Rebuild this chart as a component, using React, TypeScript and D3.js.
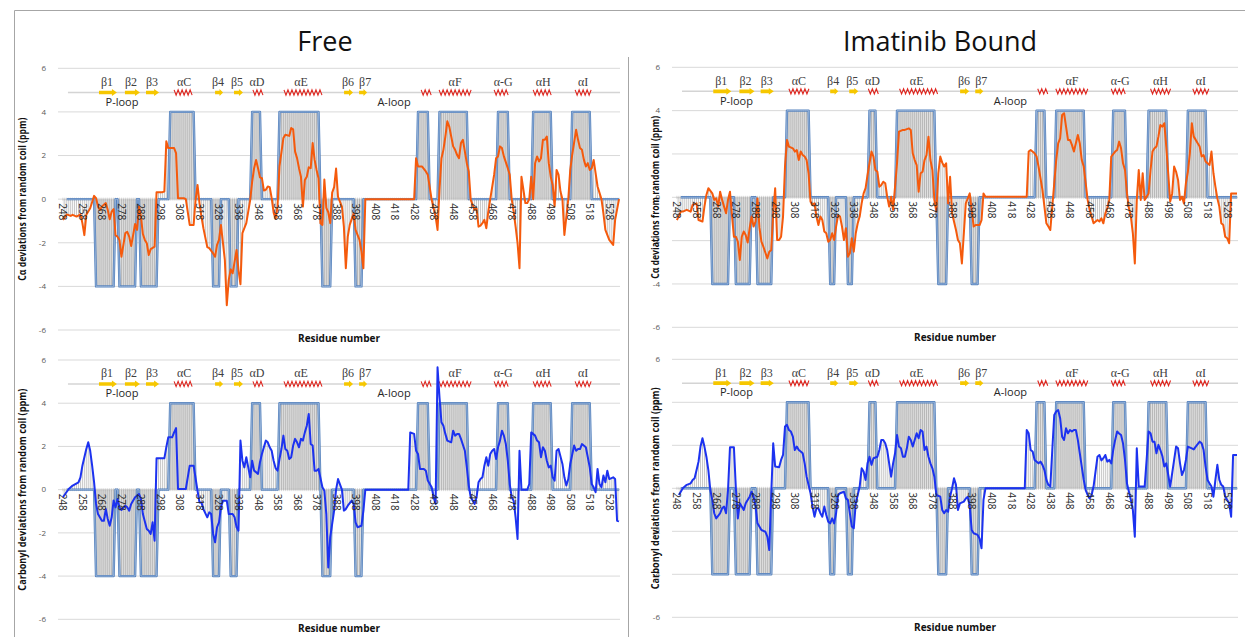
import * as d3 from 'd3';

type Pt = [number, number];

// residues on the category axis
const FIRST_RES = 248;
const LAST_RES = 533;
const BAND_FIRST = 250;
const X_TICKS = [248, 258, 268, 278, 288, 298, 308, 318, 328, 338, 348, 358, 368, 378, 388, 398, 408, 418, 428, 438, 448, 458, 468, 478, 488, 498, 508, 518, 528];
const Y_TICKS = [-6, -4, -2, 0, 2, 4, 6];

// predicted secondary structure (strand = -4, helix = +4)
const FREE_STRANDS: Pt[] = [[265, 274], [277, 285], [288, 296], [325, 328], [334, 337], [381, 385], [398, 401]];
const FREE_HELICES: Pt[] = [[303, 315], [345, 349], [359, 379], [430, 435], [441, 455], [471, 476], [489, 498], [509, 518]];
const BOUND_STRANDS: Pt[] = [[266, 274], [278, 285], [289, 296], [326, 328], [335, 337], [381, 385], [398, 401]];
const BOUND_HELICES: Pt[] = [[304, 315], [346, 349], [360, 379], [431, 435], [441, 455], [470, 476], [488, 497], [508, 517]];

// crystal structure annotation (residue positions)
const SS_STRAND_MARKS: Pt[] = [[266.5, 275.7], [279.8, 287.5], [290.6, 297.3], [326, 330.1], [335.7, 340.3], [392.1, 396.7], [399.8, 403.9]];
const SS_HELIX_MARKS: Pt[] = [[305, 315.2], [345.4, 350.6], [361.3, 380.8], [431.6, 437.7], [440.8, 457.7], [469, 476.7], [489, 499.2], [510.5, 518.7]];
const SS_LABELS: [string, number][] = [['β1', 270.6], ['β2', 282.9], ['β3', 293.7], ['αC', 310.1], ['β4', 327.5], ['β5', 337.2], ['αD', 347.5], ['αE', 370], ['β6', 394.1], ['β7', 402.9], ['αF', 449], ['α-G', 473.6], ['αH', 494.1], ['αI', 514.6]];
const LOOP_LABELS: [string, number][] = [['P-loop', 278.3], ['A-loop', 417.7]];

// C-alpha deviations, free
const CA_FREE: Pt[] = [[248, -0.95], [250, -0.7], [252, -0.77], [253, -0.72], [255, -0.8], [257, -0.7], [258, -1.1], [259, -1.65], [260, -0.72], [262, -0.42], [264, 0.15], [265, 0.05], [266, -0.34], [267, -0.5], [268, -0.34], [270, -0.18], [271, -0.5], [272, -0.92], [273, -0.57], [274, -0.46], [275, -1.65], [276, -1.72], [277, -1.87], [278, -2.64], [280, -1.56], [281, -1.5], [282, -1.72], [283, -2.15], [284, -1.65], [285, -1.14], [286, -1.41], [287, -0.34], [288, -0.8], [289, -1.6], [290, -1.87], [291, -2.02], [292, -2.56], [293, -2.29], [295, -2.18], [296, 0.32], [299, 0.32], [300, 0.35], [301, 2.65], [302, 2.34], [305, 2.34], [306, 2.11], [307, 0.04], [310, 0.04], [311, 0], [313, -1.18], [315, -1.18], [316, -0.03], [317, 0.65], [318, -0.18], [319, -0.8], [320, -1.33], [322, -2.2], [323, -2.25], [325, -2.49], [326, -2.64], [327, -2.1], [328, -1.87], [329, -1.18], [331, -2.79], [332, -4.86], [333, -3.7], [334, -3.22], [335, -3.4], [337, -2.33], [338, -3.25], [339, -3.9], [340, -1.56], [342, -1.1], [344, -0.03], [345, 0.8], [346, 1.42], [347, 1.8], [348, 1.42], [349, 1.0], [350, 0.96], [351, 0.4], [352, 0.43], [353, 0.58], [354, 0.55], [355, 0.05], [356, -0.62], [357, -0.9], [358, -0.34], [359, 1.5], [361, 2.8], [362, 2.95], [364, 2.9], [365, 3.26], [366, 3.2], [367, 2.18], [368, 1.88], [369, 1.42], [370, 1.03], [371, -0.34], [372, 0.88], [373, 1.03], [374, 1.46], [375, 1.42], [376, 2.57], [377, 1.8], [378, 1.34], [379, 0.96], [380, -1.1], [381, -1.18], [382, 0.9], [383, -0.4], [384, -0.6], [385, -1.1], [386, 0.3], [387, 0.55], [388, 1.4], [389, 0.1], [391, -0.34], [392, -1.26], [393, -3.17], [394, -1.72], [395, -1.18], [397, -0.65], [398, -1.41], [400, -1.87], [401, -2.41], [402, -3.17], [403, 0], [428, 0], [429, 1.88], [430, 1.5], [432, 1.5], [434, 1.27], [435, 1.12], [437, -0.03], [439, -0.8], [440, -1.41], [441, 0.43], [442, 1.88], [443, 2.26], [444, 2.87], [445, 3.57], [446, 3.33], [448, 2.42], [449, 2.26], [450, 2.03], [451, 1.88], [452, 2.57], [453, 2.72], [455, 1.65], [456, 1.27], [457, -0.03], [459, -0.49], [460, -0.42], [461, -1.26], [462, -1.21], [463, -1.1], [464, -0.95], [465, -1.33], [466, -0.57], [467, 0], [469, 1.12], [470, 1.88], [471, 1.96], [472, 2.42], [473, 2.34], [474, 1.96], [476, 1.42], [477, 1.12], [478, 0], [479, -0.57], [480, -1.26], [481, -2.02], [482, -3.17], [483, 1.03], [484, 0.43], [485, -0.18], [486, -0.18], [487, 0], [488, 1.03], [489, 0], [490, 1.65], [491, 1.96], [492, 1.73], [493, 1.88], [494, 2.72], [495, 2.72], [496, 2.87], [497, 1.65], [498, 1.03], [499, 0.65], [500, -0.34], [501, 1.34], [502, 1.12], [503, 0.35], [504, 0], [505, -1.64], [507, 0], [508, 1.34], [509, 2.03], [511, 3.18], [512, 2.72], [513, 2.34], [514, 2.26], [515, 1.8], [516, 1.5], [517, 1.65], [518, 1.34], [519, 1.42], [520, 1.8], [521, 1.19], [522, 0.58], [524, 0], [525, -0.65], [526, -1.41], [528, -1.87], [530, -2.1], [531, -0.95], [533, 0]];

// carbonyl deviations, free
const CO_FREE: Pt[] = [[248, -0.35], [251, 0.03], [253, 0.19], [256, 0.34], [257, 0.57], [258, 1.11], [260, 1.88], [261, 2.19], [262, 1.8], [263, 1.11], [264, 0.34], [265, -0.66], [266, -1.13], [268, -1.44], [269, -1.44], [270, -0.9], [271, -1.36], [272, -1.67], [273, -1.28], [274, -0.5], [275, -0.82], [276, -0.43], [277, -0.82], [278, -0.94], [280, -0.74], [281, -0.82], [282, -0.97], [283, -0.66], [285, -0.35], [287, -0.2], [288, -0.43], [289, -1.13], [291, -1.82], [292, -1.9], [293, -2.05], [294, -1.51], [295, -2.36], [296, 1.45], [300, 1.45], [301, 1.96], [302, 2.42], [304, 2.42], [305, 2.65], [306, 2.85], [307, 0.03], [311, 0.03], [313, 1.11], [315, 1.11], [317, -0.05], [318, -0.59], [319, -0.59], [320, -0.9], [322, -1.28], [323, -1.05], [324, -1.13], [325, -2.05], [326, -2.44], [327, -1.74], [328, -1.51], [329, -0.82], [330, -0.51], [332, -0.51], [333, -1.13], [335, -1.13], [336, -1.28], [337, -1.74], [338, -1.9], [339, 2.27], [340, 1.34], [341, 1.03], [342, 1.5], [343, 1.03], [344, 0.57], [345, 1.34], [346, 0.88], [348, 0.73], [349, 1.27], [350, 1.65], [351, 1.96], [352, 2.27], [353, 2.19], [354, 1.96], [355, 1.8], [356, 1.34], [357, 1.0], [358, 0.88], [359, 1.42], [360, 1.88], [361, 2.5], [362, 1.88], [363, 1.8], [364, 1.42], [365, 1.5], [366, 2.04], [367, 2.35], [368, 2.19], [369, 1.96], [370, 2.35], [371, 2.27], [372, 2.65], [373, 2.96], [374, 3.5], [375, 2.11], [376, 2.04], [377, 0.88], [378, 0.88], [379, 0.96], [381, 0.11], [382, -0.05], [383, -1.13], [384, -3.6], [385, -2.2], [387, -0.97], [388, 0], [389, 0.49], [391, 0], [392, -0.97], [393, -0.9], [394, -0.74], [396, -0.51], [397, -0.66], [398, -1.51], [399, -1.74], [401, -1.67], [402, -0.97], [403, 0], [425, 0], [426, 2.65], [428, 2.58], [429, 1.8], [430, 1.65], [431, 0.96], [433, 0.96], [434, 0.88], [435, 0.42], [437, 0.11], [438, -0.35], [439, -0.66], [440, 5.66], [441, 4.27], [442, 3.12], [443, 2.96], [444, 2.58], [445, 2.27], [447, 2.19], [448, 2.73], [449, 2.5], [450, 2.58], [451, 2.58], [452, 2.35], [454, 1.8], [455, 1.03], [456, 0.19], [457, -0.35], [459, -0.66], [460, -0.35], [461, 0.34], [462, 0.49], [463, 0.57], [464, 1.11], [465, 1.5], [466, 1.11], [467, 1.65], [468, 1.8], [469, 1.88], [470, 1.42], [471, 1.96], [472, 2.27], [473, 2.73], [474, 2.5], [475, 2.11], [476, 1.34], [477, 0.26], [478, -0.35], [479, -0.51], [480, -1.28], [481, -2.28], [482, 1.8], [483, 0], [486, 0], [487, 0.26], [488, 2.65], [490, 2.5], [491, 2.27], [492, 2.19], [493, 1.5], [494, 1.96], [495, 1.8], [496, 1.34], [497, 1.03], [498, 1.11], [499, 0.57], [500, 0.42], [501, 1.8], [502, 1.88], [504, 1.19], [505, 0.57], [506, 0.19], [507, 0.49], [508, 1.19], [510, 2.04], [511, 1.8], [512, 1.88], [513, 1.88], [514, 2.11], [516, 1.96], [517, 1.5], [518, 1.03], [519, 0.26], [520, 0.11], [521, -0.12], [522, 0.96], [523, 0.26], [524, 0.11], [525, 0.65], [526, 0.34], [527, 0.88], [528, 0.49], [530, 0.57], [531, 0.49], [532, -1.44], [533, -1.47]];

// C-alpha deviations, imatinib bound
const CA_BOUND: Pt[] = [[248, -1.05], [250, -0.66], [251, -0.66], [253, -0.58], [255, -0.66], [256, -0.35], [258, -0.28], [259, -1.05], [261, -1.12], [262, -0.43], [263, 0.11], [264, 0.42], [266, 0.18], [267, -0.12], [268, -0.05], [269, -0.43], [270, 0.26], [271, -0.12], [272, -0.43], [273, -0.74], [274, -0.12], [275, 0.26], [276, -0.82], [277, -1.82], [278, -1.82], [279, -2.05], [280, -2.89], [281, -1.82], [282, -1.58], [283, -1.74], [284, -2.09], [285, -1.43], [286, -0.89], [287, -1.35], [288, -1.12], [289, -0.05], [290, -1.4], [291, -2.05], [292, -2.28], [294, -2.82], [295, -2.51], [296, -2.43], [297, -0.74], [298, 0.42], [299, -1.97], [300, -1.97], [301, -1.82], [302, -0.89], [303, 1.42], [304, 2.65], [305, 2.34], [307, 2.26], [308, 2.11], [309, 2.18], [310, 1.72], [311, 2.11], [312, 1.95], [313, 1.88], [314, 1.72], [315, 1.11], [316, -0.2], [317, -0.35], [318, -0.28], [319, -0.89], [320, -1.28], [321, -0.89], [322, -1.05], [323, -1.58], [324, -1.66], [325, -2.05], [326, -1.97], [327, -1.66], [328, -1.97], [329, -1.35], [330, -0.82], [331, -0.89], [332, -1.35], [333, -1.97], [334, -1.43], [335, -2.74], [336, -2.58], [337, -1.89], [338, -2.51], [339, -1.66], [340, -1.2], [341, -0.89], [342, -0.28], [343, 0.18], [344, 0.42], [345, 1.03], [346, 1.57], [347, 2.11], [348, 1.88], [349, 1.26], [350, 1.18], [351, 0.49], [352, 0.57], [353, 0.72], [354, 0.65], [355, 0.03], [356, -0.43], [357, 0.03], [358, -0.58], [359, 0.49], [360, 1.57], [361, 3.03], [363, 3.11], [364, 3.11], [366, 3.18], [367, 3.11], [368, 2.03], [369, 1.72], [370, 1.49], [371, 0.26], [372, 1.11], [373, 1.18], [374, 1.72], [375, 1.95], [376, 2.8], [377, 1.72], [378, 1.26], [379, -0.12], [380, -0.66], [381, 1.11], [382, 1.88], [383, 1.6], [384, 1.42], [385, 1.57], [386, -0.28], [387, 0.95], [388, -0.74], [390, -1.51], [391, -1.97], [392, -2.12], [393, -3.05], [394, -1.66], [395, -0.28], [397, 0.18], [398, -0.58], [399, -1.35], [400, -1.28], [402, -1.28], [403, -1.05], [404, 0.18], [405, 0.03], [426, 0.03], [427, 2.11], [428, 2.18], [430, 2.03], [431, 1.88], [432, 1.42], [434, 0.34], [435, -0.43], [436, -1.2], [437, -1.35], [438, -1.51], [439, -0.43], [440, 0.65], [441, 1.72], [442, 2.49], [443, 2.72], [444, 3.8], [445, 3.88], [446, 3.26], [447, 2.65], [448, 2.65], [449, 2.42], [450, 2.11], [451, 2.49], [452, 2.88], [453, 2.49], [454, 1.72], [455, 1.42], [456, 0.65], [457, -0.12], [458, -0.58], [459, -0.89], [460, -1.2], [462, -1.05], [463, -1.12], [464, -0.97], [465, -1.2], [466, -0.74], [467, -0.51], [468, -0.12], [469, 1.88], [471, 2.11], [472, 2.18], [473, 2.57], [474, 2.26], [475, 1.57], [476, 1.26], [477, 0.18], [478, -0.51], [479, -0.89], [480, -1.66], [481, -3.05], [482, -0.12], [483, 1.26], [484, -0.12], [485, 1.11], [486, -0.12], [487, 0.03], [488, 0.18], [489, 1.26], [490, 2.11], [491, 2.26], [492, 2.34], [493, 2.8], [494, 3.34], [495, 3.26], [496, 3.42], [497, 2.34], [498, 1.1], [499, -0.2], [500, 0.18], [501, 1.42], [502, 1.18], [503, 0.8], [504, -0.12], [505, 0.03], [506, -0.28], [507, 0.65], [508, 1.18], [509, 2.03], [510, 3.42], [511, 2.8], [512, 2.65], [513, 2.49], [514, 2.34], [515, 1.88], [516, 1.95], [517, 1.65], [518, 1.57], [519, 1.49], [520, 2.11], [521, 1.11], [522, 0.49], [523, -0.05], [524, -0.43], [525, -1.2], [526, -1.28], [527, -1.82], [528, -1.89], [529, -2.12], [530, 0.18], [533, 0.18]];

// carbonyl deviations, imatinib bound
const CO_BOUND: Pt[] = [[249, -0.31], [251, 0], [253, 0.16], [255, 0.23], [256, 0.39], [257, 0.47], [258, 0.85], [259, 1.24], [260, 1.94], [261, 2.33], [262, 1.94], [263, 1.47], [264, 0.85], [265, -0.08], [266, -0.54], [267, -1.16], [268, -1.4], [270, -1.16], [271, -0.93], [272, -0.85], [273, -1.16], [274, -0.08], [275, 1.91], [277, 1.91], [278, 0], [279, -1.4], [280, -0.7], [281, -0.85], [282, -1.01], [283, -0.7], [285, -0.39], [286, -0.16], [287, -0.39], [288, -0.85], [289, -1.63], [291, -1.94], [293, -2.02], [294, -2.25], [295, -2.87], [296, -0.23], [297, 2.09], [298, 1.01], [300, 0.98], [301, 1.32], [302, 1.55], [303, 2.87], [304, 2.95], [305, 2.71], [306, 2.64], [307, 2.4], [308, 1.78], [309, 1.94], [310, 1.78], [311, 1.71], [312, 1.63], [313, 1.16], [314, 0.54], [316, -0.23], [317, -0.85], [318, -1.32], [319, -0.93], [320, -0.93], [321, -1.16], [322, -1.32], [323, -0.85], [324, -1.24], [325, -1.55], [326, -1.63], [327, -1.4], [328, -1.63], [329, -1.16], [330, -0.31], [331, -0.23], [333, -0.16], [334, -0.47], [335, -0.54], [336, -1.16], [337, -1.78], [338, -1.86], [339, -0.7], [341, 0.08], [342, 0.93], [343, 0.78], [344, 0.39], [345, 1.16], [346, 1.47], [347, 1.09], [348, 1.4], [350, 1.47], [351, 1.78], [352, 2.25], [353, 2.25], [354, 2.09], [355, 1.78], [356, 1.16], [357, 0.54], [358, 1.16], [359, 1.63], [360, 2.48], [361, 1.94], [362, 1.86], [363, 1.47], [364, 1.47], [365, 1.86], [366, 2.4], [367, 2.25], [368, 1.94], [369, 2.25], [370, 2.56], [371, 2.33], [372, 2.71], [373, 2.64], [374, 1.78], [375, 1.94], [376, 1.47], [377, 1.16], [378, 0.93], [379, 0.54], [380, -0.31], [382, -0.39], [383, -1.01], [384, -1.16], [385, -1.01], [386, -1.09], [387, -0.39], [388, 0], [389, 0.47], [390, 0.16], [391, -1.01], [392, -0.7], [394, -0.62], [395, -0.47], [396, -0.39], [397, -0.85], [398, -1.94], [399, -2.09], [401, -2.17], [402, -2.33], [403, -2.79], [404, -0.54], [405, 0], [425, 0], [426, 2.71], [427, 2.56], [428, 1.78], [429, 1.71], [430, 1.32], [432, 1.16], [433, 1.24], [434, 1.09], [435, 0.85], [436, 0.39], [437, 0.16], [438, 0.08], [439, 1.78], [440, 3.41], [441, 3.57], [442, 3.64], [443, 3.26], [444, 2.4], [445, 2.25], [446, 2.79], [447, 2.56], [448, 2.71], [449, 2.64], [450, 2.71], [451, 2.71], [452, 2.25], [453, 1.63], [454, 1.01], [455, 0.39], [456, -0.08], [457, -0.31], [458, -0.47], [459, -0.31], [460, 0.08], [461, 0.78], [462, 1.47], [463, 1.55], [464, 1.3], [465, 1.4], [466, 1.55], [467, 1.24], [468, 1.32], [469, 1.16], [470, 1.78], [471, 2.25], [472, 2.64], [473, 2.55], [474, 2.48], [475, 2.09], [476, 1.32], [477, 0.23], [478, -0.16], [479, -0.54], [480, -1.01], [481, -2.25], [482, 1.86], [483, 0.08], [486, 0.08], [487, 1.32], [488, 2.64], [489, 2.56], [490, 2.17], [491, 2.17], [492, 1.63], [493, 2.02], [494, 1.78], [495, 1.5], [496, 1.01], [497, 1.16], [498, 0.62], [499, 0.08], [501, 1.32], [502, 1.94], [503, 1.86], [504, 1.16], [505, 0.62], [506, 0.85], [507, 1.32], [508, 1.94], [510, 1.86], [511, 1.81], [512, 1.94], [514, 2.17], [515, 2.09], [516, 1.78], [517, 1.01], [518, 0.39], [519, 0.23], [520, 0.08], [521, -0.39], [522, 0.39], [523, 1.09], [524, 0.39], [525, 0.16], [526, 0.08], [527, -0.39], [528, -0.54], [529, -0.7], [530, -1.32], [531, 1.55], [533, 1.55]];

const FONT = "'Open Sans', 'Liberation Sans', sans-serif";
const ORANGE = '#f55a0c';
const BLUE = '#1c32f0';

interface PanelProps {
  id: string;
  left: number;
  right: number;
  top: number;
  bottom: number;
  series: Pt[];
  strands: Pt[];
  helices: Pt[];
  color: string;
  yTitle: string;
  yTitleLen: number;
  titleX: number;
  xTitleY: number;
}

function inside(r: number, list: Pt[]) {
  return list.some(([a, b]) => r >= a && r <= b);
}

function Panel({ id, left, right, top, bottom, series, strands, helices, color, yTitle, yTitleLen, titleX, xTitleY }: PanelProps) {
  const x = d3.scaleLinear().domain([245.5, 533.5]).range([left, right]);
  const y = d3.scaleLinear().domain([-6, 6]).range([bottom, top]);
  const y0 = y(0);

  const band: Pt[] = d3.range(BAND_FIRST, LAST_RES + 1).map(r => [r, inside(r, strands) ? -4 : inside(r, helices) ? 4 : 0]);
  const cats = d3.range(FIRST_RES, LAST_RES + 1);

  const area = d3.area<Pt>().x(d => x(d[0])).y0(y0).y1(d => y(d[1]));
  const line = d3.line<Pt>().x(d => x(d[0])).y(d => y(d[1]));

  const labelY = y(5.39);
  const markY = y(4.89);
  const loopY = y(4.45);

  const zigzag = (a: number, b: number) => {
    const x1 = x(a), x2 = x(b);
    const pts: Pt[] = [];
    let up = true;
    for (let px = x1; px <= x2; px += 2) {
      pts.push([px, markY + (up ? -2.6 : 2.6)]);
      up = !up;
    }
    return d3.line()(pts) || '';
  };

  const arrow = (a: number, b: number) => {
    const x1 = x(a), x2 = x(b);
    const head = Math.min(5, (x2 - x1) * 0.45);
    return `M${x1},${markY - 1.8}L${x2 - head},${markY - 1.8}L${x2 - head},${markY - 3.4}L${x2},${markY}L${x2 - head},${markY + 3.4}L${x2 - head},${markY + 1.8}L${x1},${markY + 1.8}Z`;
  };

  const midY = (top + bottom) / 2;

  return (
    <g>
      {Y_TICKS.map(t => (
        <line key={'g' + t} x1={left} x2={right} y1={y(t)} y2={y(t)} stroke="#d9d9d9" strokeWidth={1} />
      ))}
      {Y_TICKS.map(t => (
        <text key={'yt' + t} x={left - 12} y={y(t)} dy="0.35em" textAnchor="end" fontSize={8} fill="#595959" fontFamily={FONT}>{t}</text>
      ))}

      <defs>
        <clipPath id={`hl-${id}`}>
          <path d={area(band) || ''} />
          <path d={area(series) || ''} />
        </clipPath>
      </defs>

      <path d={area(band) || ''} fill="#e1e1e1" />

      <g clipPath={`url(#hl-${id})`}>
        {cats.map(r => (
          <line key={'hl' + r} x1={x(r)} x2={x(r)} y1={top} y2={bottom} stroke="#8f8f8f" strokeWidth={0.5} />
        ))}
      </g>

      {cats.map(r => (
        <line key={'zt' + r} x1={x(r)} x2={x(r)} y1={y0 - 1.5} y2={y0 + 1.5} stroke="#b0b0b0" strokeWidth={0.5} />
      ))}

      <path d={line(band) || ''} fill="none" stroke="#5582bd" strokeWidth={2.4} strokeLinejoin="round" />
      <path d={line(band) || ''} fill="none" stroke="#bccfe8" strokeWidth={0.6} strokeLinejoin="round" />

      {/* secondary structure annotation */}
      <line x1={x(250.6)} x2={right} y1={markY} y2={markY} stroke="#d4d4d4" strokeWidth={1.5} />
      {SS_STRAND_MARKS.map(([a, b]) => (
        <path key={'st' + a} d={arrow(a, b)} fill="#f6c700" />
      ))}
      {SS_HELIX_MARKS.map(([a, b]) => (
        <path key={'hx' + a} d={zigzag(a, b)} fill="none" stroke="#e0261f" strokeWidth={1.1} />
      ))}
      {SS_LABELS.map(([name, r]) => (
        <text key={name} x={x(r)} y={labelY} dy="0.35em" textAnchor="middle" fontSize={12} fill="#404040" fontFamily="'Liberation Serif', 'DejaVu Serif', serif">{name}</text>
      ))}
      {LOOP_LABELS.map(([name, r]) => (
        <text key={name} x={x(r)} y={loopY} dy="0.35em" textAnchor="middle" fontSize={11} fill="#262626" fontFamily={FONT}>{name}</text>
      ))}

      <path d={line(series) || ''} fill="none" stroke={color} strokeWidth={2} strokeLinejoin="round" />

      {X_TICKS.map(t => (
        <text key={'xt' + t} x={x(t)} y={y0 + 4} transform={`rotate(90 ${x(t)} ${y0 + 4})`} dy="0.35em" textAnchor="start" fontSize={10} fill="#262626" fontFamily={FONT}>{t}</text>
      ))}

      <text x={titleX} y={midY} transform={`rotate(-90 ${titleX} ${midY})`} dy="0.35em" textAnchor="middle" fontSize={11} fontWeight="bold" fill="#111" fontFamily={FONT} textLength={yTitleLen} lengthAdjust="spacingAndGlyphs">{yTitle}</text>
      <text x={(left + right) / 2} y={xTitleY} dy="0.35em" textAnchor="middle" fontSize={11} fontWeight="bold" fill="#111" fontFamily={FONT} textLength={82} lengthAdjust="spacingAndGlyphs">Residue number</text>
    </g>
  );
}

export default function App() {
  return (
    <svg width={1249} height={639} style={{ position: 'absolute', left: 0, top: 0, background: '#fff' }}>
      <rect x={0} y={0} width={1249} height={639} fill="#fff" />
      <line x1={14.5} x2={1245} y1={10.5} y2={10.5} stroke="#a6a6a6" />
      <line x1={14.5} x2={14.5} y1={10.5} y2={637} stroke="#a6a6a6" />
      <line x1={628.5} x2={628.5} y1={57} y2={637} stroke="#a6a6a6" />

      <text x={325} y={42} dy="0.35em" textAnchor="middle" fontSize={27} fill="#111" fontFamily={FONT}>Free</text>
      <text x={940} y={42} dy="0.35em" textAnchor="middle" fontSize={27} fill="#111" fontFamily={FONT}>Imatinib Bound</text>

      <Panel id="caFree" left={58} right={620} top={68.3} bottom={330} series={CA_FREE} strands={FREE_STRANDS} helices={FREE_HELICES} color={ORANGE} yTitle="Cα deviations from random coil (ppm)" yTitleLen={163} titleX={22} xTitleY={338} />
      <Panel id="coFree" left={58} right={620} top={360} bottom={619.3} series={CO_FREE} strands={FREE_STRANDS} helices={FREE_HELICES} color={BLUE} yTitle="Carbonyl deviations from random coil (ppm)" yTitleLen={202} titleX={22} xTitleY={628} />
      <Panel id="caBound" left={672} right={1238} top={67.3} bottom={327.3} series={CA_BOUND} strands={BOUND_STRANDS} helices={BOUND_HELICES} color={ORANGE} yTitle="Cα deviations from random coil (ppm)" yTitleLen={163} titleX={655} xTitleY={337} />
      <Panel id="coBound" left={672} right={1238} top={359.3} bottom={617.3} series={CO_BOUND} strands={BOUND_STRANDS} helices={BOUND_HELICES} color={BLUE} yTitle="Carbonyl deviations from random coil (ppm)" yTitleLen={202} titleX={655} xTitleY={627} />
    </svg>
  );
}
